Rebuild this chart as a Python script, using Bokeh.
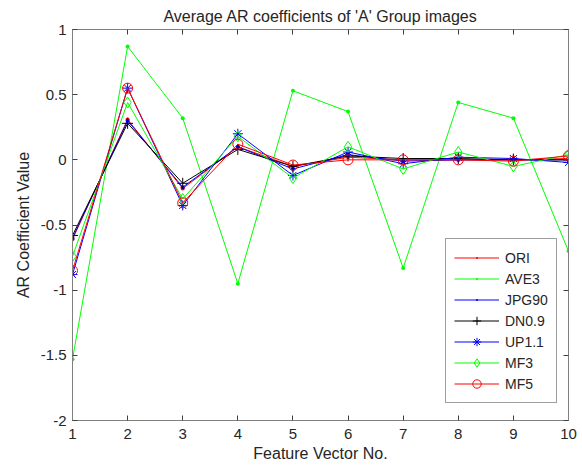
from bokeh.plotting import figure
from bokeh.models import Range1d, FixedTicker, LinearAxis, CustomJSTickFormatter, Legend
from bokeh.embed import file_html
from bokeh.resources import INLINE

x = [1, 2, 3, 4, 5, 6, 7, 8, 9, 10]
ori   = [-0.61, 0.31, -0.22, 0.10, -0.05, 0.02, 0.00, 0.00, 0.00, 0.01]
ave3  = [-1.53, 0.87, 0.32, -0.95, 0.53, 0.37, -0.83, 0.44, 0.32, -0.70]
jpg90 = [-0.60, 0.30, -0.21, 0.10, -0.07, 0.04, -0.01, 0.00, 0.00, 0.00]
dn09  = [-0.58, 0.28, -0.18, 0.08, -0.05, 0.03, 0.01, 0.01, 0.00, 0.00]
up11  = [-0.88, 0.55, -0.35, 0.20, -0.12, 0.06, -0.03, 0.02, 0.01, -0.02]
mf3   = [-0.74, 0.44, -0.30, 0.18, -0.14, 0.10, -0.07, 0.06, -0.05, 0.04]
mf5   = [-0.85, 0.55, -0.33, 0.12, -0.04, 0.00, 0.00, 0.00, -0.01, 0.03]
yticks = [-2, -1.5, -1, -0.5, 0, 0.5, 1]

FONT = "Liberation Sans"
TXT = "#262626"

p = figure(width=582, height=468, output_backend="svg", toolbar_location=None,
           x_range=Range1d(1, 10), y_range=Range1d(-2, 1),
           min_border_left=72, min_border_right=14, min_border_top=28, min_border_bottom=48,
           x_axis_location=None, y_axis_location=None)
p.title.text = "Average AR coefficients of 'A' Group images"
p.title.align = "center"
p.title.text_font = FONT
p.title.text_font_size = "16px"
p.title.text_font_style = "normal"
p.title.text_color = TXT
p.title.offset = 7
p.grid.visible = False
p.outline_line_color = None
p.background_fill_color = "white"
p.border_fill_color = "white"

fmt = CustomJSTickFormatter(code="return String(tick);")

def style_axis(ax):
    ax.axis_line_color = "#808080"
    ax.major_tick_line_color = "#404040"
    ax.major_tick_in = 5
    ax.major_tick_out = 0
    ax.minor_tick_line_color = None
    ax.major_label_text_font = FONT
    ax.major_label_text_font_size = "15px"
    ax.major_label_text_color = TXT
    ax.axis_label_text_font = FONT
    ax.axis_label_text_font_size = "16px"
    ax.axis_label_text_font_style = "normal"
    ax.axis_label_text_color = TXT
    ax.formatter = fmt

def box_axis(ax):
    ax.axis_line_color = "#808080"
    ax.major_tick_line_color = "#404040"
    ax.major_tick_in = 5
    ax.major_tick_out = 0
    ax.minor_tick_line_color = None
    ax.major_label_text_color = None
    ax.major_label_text_font_size = "1px"
    ax.major_label_standoff = 0

xb = LinearAxis(ticker=FixedTicker(ticks=x), axis_label="Feature Vector No.")
style_axis(xb)
xb.major_label_standoff = 8
xb.axis_label_standoff = 3
p.add_layout(xb, "below")

yl = LinearAxis(ticker=FixedTicker(ticks=yticks), axis_label="AR Coefficient Value")
style_axis(yl)
yl.major_label_standoff = 6
yl.axis_label_standoff = 6
p.add_layout(yl, "left")

xt = LinearAxis(ticker=FixedTicker(ticks=x))
box_axis(xt)
p.add_layout(xt, "above")

yr = LinearAxis(ticker=FixedTicker(ticks=yticks))
box_axis(yr)
p.add_layout(yr, "right")

series = [
    ("ORI", ori, "#ff0000", "dot", 16, False),
    ("AVE3", ave3, "#00ff00", "dot", 16, False),
    ("JPG90", jpg90, "#0000ff", "dot", 16, False),
    ("DN0.9", dn09, "#000000", "cross", 11, False),
    ("UP1.1", up11, "#0000ff", "asterisk", 10, False),
    ("MF3", mf3, "#00ff00", "diamond", 11, False),
    ("MF5", mf5, "#ff0000", "circle", 10, False),
]
items = []
for name, ys, col, mk, sz, filled in series:
    r1 = p.line(x, ys, line_color=col, line_width=1)
    r2 = p.scatter(x, ys, marker=mk, size=sz, line_color=col, line_width=1,
                   fill_color=col if mk == "dot" else None)
    items.append((name, [r1, r2]))

leg = Legend(items=items, location=(373, 17))
leg.label_text_font = FONT
leg.label_text_font_size = "14px"
leg.label_text_color = TXT
leg.glyph_width = 45
leg.glyph_height = 21
leg.label_height = 21
leg.label_standoff = 6
leg.spacing = -4
leg.padding = 8
leg.margin = 0
leg.border_line_color = "#404040"
leg.border_line_width = 1
leg.background_fill_color = "white"
leg.background_fill_alpha = 1
p.add_layout(leg, "center")

open("out.html", "w").write(file_html(p, INLINE))
